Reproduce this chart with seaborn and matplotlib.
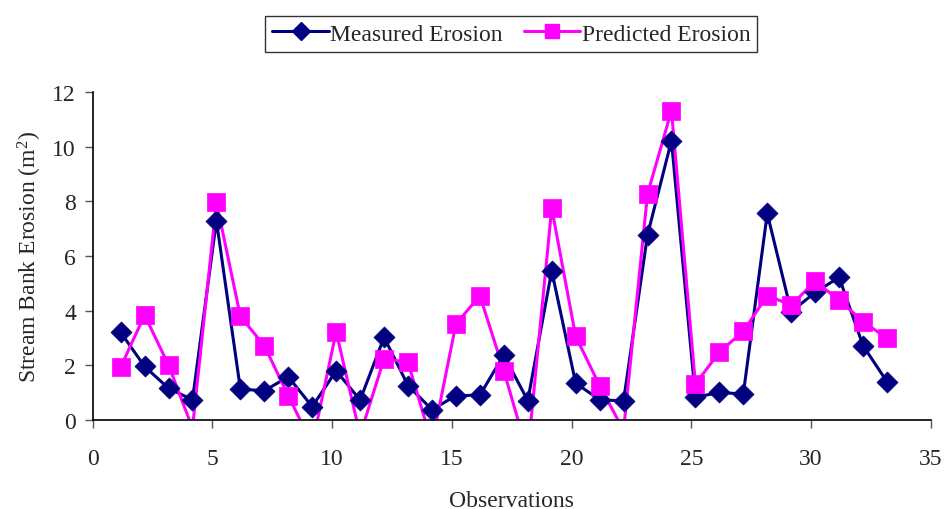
import numpy as np
import pandas as pd
import matplotlib
matplotlib.use("Agg")
import matplotlib.pyplot as plt
from matplotlib.lines import Line2D
import seaborn as sns

# observations and values
observations = list(range(1, 34))
measured = [3.21, 1.96, 1.16, 0.74, 7.29, 1.13, 1.07, 1.58, 0.49, 1.80,
            0.73, 3.03, 1.26, 0.38, 0.89, 0.91, 2.38, 0.71, 5.46, 1.35,
            0.74, 0.70, 6.77, 10.22, 0.83, 1.01, 0.95, 7.56, 3.96, 4.67,
            5.22, 2.72, 1.40]
predicted = [1.93, 3.84, 2.01, -0.30, 7.97, 3.79, 2.72, 0.89, -0.90, 3.23,
             -0.55, 2.24, 2.11, -0.85, 3.51, 4.55, 1.80, -1.22, 7.75, 3.06,
             1.26, -0.38, 8.27, 11.32, 1.32, 2.48, 3.25, 4.55, 4.21, 5.07,
             4.39, 3.60, 2.99]

navy = "#000080"
magenta = "#FF00FF"

df = pd.DataFrame({"obs": observations, "measured": measured, "predicted": predicted})
df["x"] = df["obs"] + 0.17  # points sit slightly right of the integer ticks

sns.set_style("white")
plt.rcParams["font.family"] = ["Liberation Serif", "DejaVu Serif"]
plt.rcParams["mathtext.fontset"] = "custom"
plt.rcParams["mathtext.rm"] = "Liberation Serif"
plt.rcParams["mathtext.it"] = "Liberation Serif:italic"

fs = 17

fig, ax = plt.subplots(figsize=(9.45, 5.1), dpi=100)
fig.subplots_adjust(left=0.098, right=0.985, bottom=0.1745, top=0.8176)

# lines first, then markers (predicted on top)
sns.lineplot(data=df, x="x", y="measured", color=navy, lw=2.2, sort=False, ax=ax)
sns.lineplot(data=df, x="x", y="predicted", color=magenta, lw=2.2, sort=False, ax=ax)

# points below zero fall outside the axis, so only their lines show
vis_m = df[df["measured"] >= 0]
vis_p = df[df["predicted"] >= 0]
sns.scatterplot(data=vis_m, x="x", y="measured", marker="D", s=115, color=navy,
                edgecolor=navy, linewidth=0.5, ax=ax, zorder=3)
sns.scatterplot(data=vis_p, x="x", y="predicted", marker="s", s=170, color=magenta,
                edgecolor=magenta, linewidth=0.5, ax=ax, zorder=4)

ax.set_xlim(0, 35)
ax.set_ylim(0, 12)
ax.set_xticks(np.arange(0, 36, 5))
ax.set_yticks(np.arange(0, 13, 2))
sns.despine(ax=ax)
for s in ["left", "bottom"]:
    ax.spines[s].set_color("black")
    ax.spines[s].set_linewidth(1.2)

ax.tick_params(axis="x", direction="out", length=6, width=1, color="#555555",
               labelsize=fs, pad=14, bottom=True)
ax.tick_params(axis="y", direction="out", length=6, width=1, color="#555555",
               labelsize=fs, pad=6, left=True)

ax.set_xlabel("Observations", fontsize=fs, labelpad=15)
ax.set_ylabel(r"Stream Bank Erosion (m$^\mathrm{2}$)", fontsize=fs, labelpad=6)

handles = [
    Line2D([], [], color=navy, lw=2.2, marker="D", markersize=9),
    Line2D([], [], color=magenta, lw=2.2, marker="s", markersize=10),
]
leg = fig.legend(handles, ["Measured Erosion", "Predicted Erosion"],
                 loc="upper center", bbox_to_anchor=(0.541, 0.99), ncol=2,
                 fontsize=fs, frameon=True, fancybox=False, edgecolor="black",
                 handlelength=2.4, handletextpad=0.05, columnspacing=0.9,
                 borderpad=0.3)
leg.get_frame().set_linewidth(1.0)

fig.savefig("out.png", dpi=100)
